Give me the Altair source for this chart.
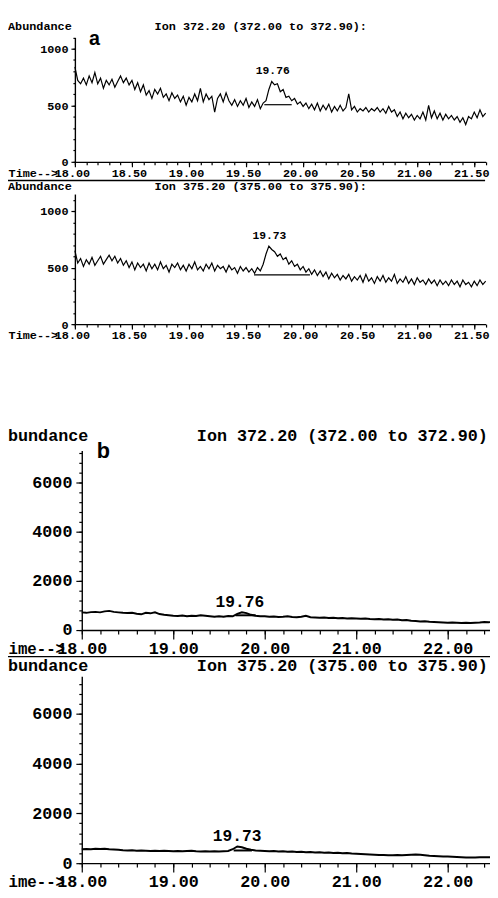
import altair as alt
import pandas as pd

# ---------------- data ----------------
A_T0, A_DT = 18.0, 0.025
a1_vals = [840, 720, 690, 740, 680, 760, 700, 790, 690, 740,
           650, 720, 680, 730, 660, 710, 760, 700, 740, 680,
           720, 640, 700, 620, 680, 590, 630, 560, 640, 600,
           650, 570, 600, 540, 610, 560, 590, 530, 580, 500,
           570, 530, 600, 540, 650, 530, 600, 550, 580, 440,
           560, 600, 530, 610, 540, 500, 550, 490, 540, 500,
           560, 480, 530, 490, 550, 470, 520, 540, 640, 710,
           680, 690, 620, 640, 570, 580, 540, 560, 510, 530,
           490, 520, 470, 510, 460, 520, 450, 500, 460, 510,
           440, 490, 450, 500, 450, 480, 600, 460, 490, 440,
           470, 450, 480, 440, 470, 450, 480, 440, 470, 430,
           490, 440, 460, 400, 440, 380, 430, 390, 420, 370,
           410, 380, 440, 370, 500, 390, 450, 380, 430, 370,
           420, 380, 410, 370, 400, 350, 390, 330, 400, 380,
           440, 390, 460, 400, 430]
a2_vals = [650, 540, 580, 510, 570, 530, 590, 520, 560, 600,
           530, 570, 610, 560, 600, 540, 580, 520, 560, 500,
           550, 480, 540, 500, 530, 470, 540, 490, 530, 480,
           550, 490, 520, 460, 530, 500, 540, 480, 520, 470,
           530, 490, 550, 480, 510, 470, 530, 490, 540, 470,
           520, 490, 510, 460, 520, 480, 500, 450, 510, 470,
           500, 460, 490, 450, 500, 470, 530, 620, 690, 660,
           640, 600, 620, 570, 590, 530, 560, 510, 530, 480,
           510, 460, 490, 440, 480, 430, 470, 420, 460, 400,
           450, 410, 440, 390, 430, 400, 440, 380, 420, 390,
           430, 370, 440, 380, 410, 360, 420, 380, 430, 370,
           410, 380, 440, 360, 400, 370, 420, 360, 400, 350,
           410, 370, 390, 350, 400, 360, 390, 340, 390, 350,
           380, 340, 390, 350, 380, 330, 390, 350, 370, 330,
           380, 340, 390, 350, 380]

B_T0, B_DT = 18.0, 0.05
b1_vals = [720, 700, 730, 740, 720, 760, 780, 740, 720, 700,
           690, 700, 660, 640, 700, 680, 720, 650, 620, 600,
           580, 570, 590, 560, 580, 570, 600, 580, 560, 540,
           560, 540, 570, 560, 660, 720, 690, 620, 580, 560,
           560, 540, 550, 530, 540, 560, 530, 520, 540, 580,
           520, 510, 500, 510, 490, 500, 480, 490, 470, 480,
           470, 460, 470, 450, 440, 450, 430, 440, 420, 430,
           400, 410, 380, 370, 350, 360, 340, 330, 320, 310,
           300, 310, 300, 290, 300, 290, 300, 310, 330, 320,
           330]
b2_vals = [560, 570, 560, 580, 570, 580, 560, 550, 540, 520,
           510, 520, 500, 510, 500, 490, 500, 490, 500, 490,
           480, 490, 480, 490, 500, 480, 470, 480, 470, 480,
           470, 480, 490, 560, 670, 640, 580, 540, 510, 500,
           490, 480, 490, 470, 480, 460, 470, 450, 460, 440,
           450, 430, 440, 420, 430, 410, 420, 400, 410, 390,
           380, 370, 360, 350, 340, 330, 330, 320, 320, 330,
           320, 330, 340, 350, 340, 320, 300, 290, 280, 270,
           270, 260, 250, 240, 230, 230, 230, 240, 240, 240,
           240]

peak_labels = ["19.76", "19.73", "19.76", "19.73"]
peak_label_t = [19.76, 19.73, 19.76, 19.73]
peak_label_v = [800, 783, 1120, 1105]
peak_base_t0 = [19.66, 19.57, 19.68, 19.66]
peak_base_t1 = [19.90, 20.06, 19.90, 19.86]
peak_base_v = [505, 435, 600, 510]

header_left = ["Abundance", "Abundance", "bundance", "bundance"]
header_ion = ["Ion 372.20 (372.00 to 372.90):", "Ion 375.20 (375.00 to 375.90):",
              "Ion 372.20 (372.00 to 372.90)", "Ion 375.20 (375.00 to 375.90)"]
time_prefix = ["Time-->", "Time-->", "ime-->", "ime-->"]
panel_letters = ["a", "b"]

a_x_major = [18.0, 18.5, 19.0, 19.5, 20.0, 20.5, 21.0, 21.5]
b_x_major = [18.0, 19.0, 20.0, 21.0, 22.0]
a_y_major = [0, 500, 1000]
b_y_major = [0, 2000, 4000, 6000]

# ---------------- layout (chart pixel coordinates) ----------------
W, H = 490, 890
FONT = "Liberation Mono"


def frame(vals, t0, dt):
    return pd.DataFrame({"t": [round(t0 + i * dt, 4) for i in range(len(vals))], "v": vals})


a_x_minor = [round(18.0 + 0.1 * i, 2) for i in range(37)]
b_x_minor = [round(18.0 + 0.2 * i, 2) for i in range(24)]
a_y_minor = [100 * i for i in range(12)]
b_y_minor = [400 * i for i in range(19)]

panels = [
    dict(df=frame(a1_vals, A_T0, A_DT), xdom=[18, 21.6], xr=[68, 485.6], ydom=[0, 1100], yr=[149, 22.5],
         xa=149, ya=68, fs=12, pfs=12, lw=1.2, xmaj=a_x_major, xmin=a_x_minor, ymaj=a_y_major, ymin=a_y_minor,
         xts=5, xtm=3, yts=4, ytm=2, xlp=1, ylp=3, xlo=-3, hy=11, ionx=149, prefx=51, sepy=168, sepx2=485),
    dict(df=frame(a2_vals, A_T0, A_DT), xdom=[18, 21.6], xr=[68, 485.6], ydom=[0, 1150], yr=[314, 181.75],
         xa=314, ya=68, fs=12, pfs=12, lw=1.2, xmaj=a_x_major, xmin=a_x_minor, ymaj=a_y_major, ymin=a_y_minor,
         xts=5, xtm=3, yts=4, ytm=2, xlp=1, ylp=3, xlo=-3, hy=174, ionx=149, prefx=51, sepy=None, sepx2=None),
    dict(df=frame(b1_vals, B_T0, B_DT), xdom=[18, 22.6], xr=[75, 502.8], ydom=[0, 7300], yr=[625, 442.5],
         xa=625, ya=75, fs=17, pfs=16, lw=2, xmaj=b_x_major, xmin=b_x_minor, ymaj=b_y_major, ymin=b_y_minor,
         xts=9, xtm=4, yts=6, ytm=3, xlp=2, ylp=4, xlo=0, hy=428, ionx=192, prefx=58, sepy=652, sepx2=490),
    dict(df=frame(b2_vals, B_T0, B_DT), xdom=[18, 22.6], xr=[75, 502.8], ydom=[0, 7500], yr=[862, 672],
         xa=862, ya=75, fs=17, pfs=16, lw=2, xmaj=b_x_major, xmin=b_x_minor, ymaj=b_y_major, ymin=b_y_minor,
         xts=9, xtm=4, yts=6, ytm=3, xlp=2, ylp=4, xlo=0, hy=662, ionx=192, prefx=58, sepy=None, sepx2=None),
]


def axis_x(p, values, size, labels):
    kw = dict(orient="bottom", offset=p["xa"] - H, values=values, tickSize=size, tickColor="black",
              tickWidth=1.2, grid=False, title=None, labels=labels, domain=labels,
              domainColor="black", domainWidth=1.4)
    if labels:
        kw.update(format=".2f", labelFont=FONT, labelFontSize=p["fs"], labelFontWeight="bold",
                  labelColor="black", labelPadding=p["xlp"], labelFlush=False, labelOverlap=False,
                  labelBound=False, labelOffset=p["xlo"])
    return alt.Axis(**kw)


def axis_y(p, values, size, labels):
    kw = dict(orient="left", offset=-p["ya"], values=values, tickSize=size, tickColor="black",
              tickWidth=1.2, grid=False, title=None, labels=labels, domain=labels,
              domainColor="black", domainWidth=1.4)
    if labels:
        kw.update(format="d", labelFont=FONT, labelFontSize=p["fs"], labelFontWeight="bold",
                  labelColor="black", labelPadding=p["ylp"], labelFlush=False, labelOverlap=False,
                  labelBound=False)
    return alt.Axis(**kw)


one = pd.DataFrame({"k": [0]})


def text_layer(txt, x, y, size, font=FONT, align="left", baseline="middle"):
    return alt.Chart(one).mark_text(text=txt, font=font, fontSize=size, fontWeight="bold",
                                    align=align, baseline=baseline, color="black").encode(
        x=alt.value(x), y=alt.value(y))


layers = []
for i, p in enumerate(panels):
    xs = alt.Scale(domain=p["xdom"], range=p["xr"], nice=False, zero=False)
    ys = alt.Scale(domain=p["ydom"], range=p["yr"], nice=False, zero=False)
    base = alt.Chart(p["df"])
    layers.append(base.mark_line(color="black", strokeWidth=p["lw"]).encode(
        x=alt.X("t:Q", scale=xs, axis=axis_x(p, p["xmaj"], p["xts"], True)),
        y=alt.Y("v:Q", scale=ys, axis=axis_y(p, p["ymaj"], p["yts"], True))))
    layers.append(base.mark_line(opacity=0).encode(
        x=alt.X("t:Q", scale=xs, axis=axis_x(p, p["xmin"], p["xtm"], False)),
        y=alt.Y("v:Q", scale=ys, axis=axis_y(p, p["ymin"], p["ytm"], False))))
    pk = pd.DataFrame({"t0": [peak_base_t0[i]], "t1": [peak_base_t1[i]], "b": [peak_base_v[i]],
                       "lt": [peak_label_t[i]], "lv": [peak_label_v[i]], "lab": [peak_labels[i]]})
    layers.append(alt.Chart(pk).mark_rule(color="black", strokeWidth=p["lw"]).encode(
        x=alt.X("t0:Q", scale=xs, axis=None), x2="t1:Q",
        y=alt.Y("b:Q", scale=ys, axis=None)))
    layers.append(alt.Chart(pk).mark_text(font=FONT, fontSize=p["fs"] - 0.5, fontWeight="bold",
                                          color="black", dx=-3, baseline="middle").encode(
        x=alt.X("lt:Q", scale=xs, axis=None), y=alt.Y("lv:Q", scale=ys, axis=None), text="lab:N"))
    # headers
    layers.append(text_layer(header_left[i], 0, p["hy"], p["fs"]))
    layers.append(text_layer(header_ion[i], p["ionx"], p["hy"], p["fs"]))
    layers.append(text_layer(time_prefix[i], p["prefx"], p["xa"] + p["xts"] + p["xlp"], p["pfs"],
                             align="right", baseline="top"))
    if p["sepy"] is not None:
        layers.append(alt.Chart(one).mark_rule(color="black", strokeWidth=1.4).encode(
            x=alt.value(0), x2=alt.value(p["sepx2"]), y=alt.value(p["sepy"])))

layers.append(text_layer(panel_letters[0], 88, 24, 20, font="Liberation Sans", align="center"))
layers.append(text_layer(panel_letters[1], 97, 443, 22, font="Liberation Sans", align="center"))

chart = alt.layer(*layers).resolve_scale(x="independent", y="independent").properties(
    width=W, height=H, padding=0, autosize=alt.AutoSizeParams(type="none")
).configure_view(stroke=None)

chart.save("out.html", embed_options={"renderer": "svg", "actions": False})
